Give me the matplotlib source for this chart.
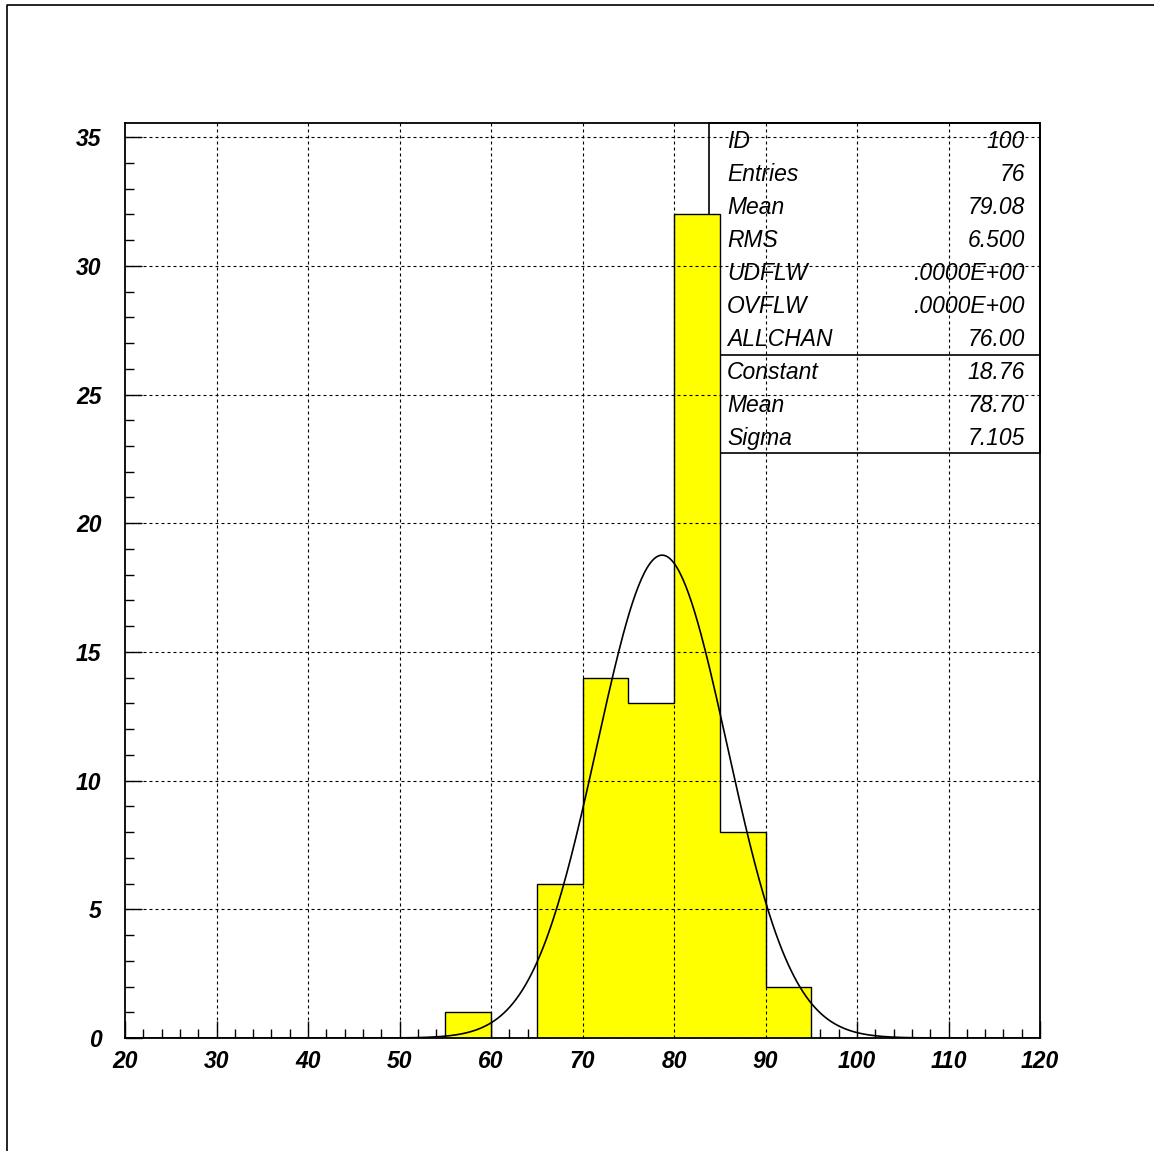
import numpy as np
import matplotlib

matplotlib.use("Agg")
import matplotlib.pyplot as plt
from matplotlib.lines import Line2D
from matplotlib.patches import Rectangle

# histogram contents (bin width 5)
bin_edges = [20, 25, 30, 35, 40, 45, 50, 55, 60, 65, 70, 75, 80, 85, 90, 95, 100, 105, 110, 115, 120]
counts = [0, 0, 0, 0, 0, 0, 0, 1, 0, 6, 14, 13, 32, 8, 2, 0, 0, 0, 0, 0]

# gaussian fit
fit_const = 18.76
fit_mean = 78.70
fit_sigma = 7.105

stat_labels = ["ID", "Entries", "Mean", "RMS", "UDFLW", "OVFLW", "ALLCHAN", "Constant", "Mean", "Sigma"]
stat_values = ["100", "76", "79.08", "6.500", ".0000E+00", ".0000E+00", "76.00", "18.76", "78.70", "7.105"]

W, H = 1154, 1151
fig = plt.figure(figsize=(W / 100, H / 100), dpi=100)

# outer page frame (left and top edges only visible)
fig.add_artist(Line2D([7 / W, 7 / W, 1.0], [0.0, 1 - 5 / H, 1 - 5 / H],
                      transform=fig.transFigure, color="black", lw=1.2))

left, right, bottom, top = 125, 1040, 1038, 123
ax = fig.add_axes([left / W, 1 - bottom / H, (right - left) / W, (bottom - top) / H])
ax.set_xlim(20, 120)
ax.set_ylim(0, 35.55)

# histogram
ax.stairs(counts, bin_edges, fill=True, facecolor="#ffff00", edgecolor="none", zorder=2)
ax.stairs(counts, bin_edges, fill=False, edgecolor="black", lw=1.0, zorder=2.5)

# fitted gaussian
xs = np.linspace(20, 120, 600)
ax.plot(xs, fit_const * np.exp(-0.5 * ((xs - fit_mean) / fit_sigma) ** 2),
        color="black", lw=1.2, zorder=4)

# grid
for gx in range(30, 120, 10):
    ax.axvline(gx, color="black", lw=0.8, linestyle=(0, (2.7, 2.7)), zorder=3)
for gy in range(5, 36, 5):
    ax.axhline(gy, color="black", lw=0.8, linestyle=(0, (2.7, 2.7)), zorder=3)

ax.set_xticks(range(20, 121, 10))
ax.set_xticks(range(20, 121, 2), minor=True)
ax.set_yticks(range(0, 36, 5))
ax.set_yticks(range(0, 36, 1), minor=True)
ax.tick_params(which="both", direction="in", top=False, right=False, width=1.0, color="black")
ax.tick_params(which="major", length=12)
ax.tick_params(which="minor", length=6.5)
ax.tick_params(axis="x", pad=9)
ax.tick_params(axis="y", pad=17)
for lab in ax.get_xticklabels() + ax.get_yticklabels():
    lab.set_fontfamily("Liberation Sans")
    lab.set_fontweight("bold")
    lab.set_fontstyle("italic")
    lab.set_fontsize(16.5)
for sp in ax.spines.values():
    sp.set_linewidth(1.3)
    sp.set_zorder(5)

# statistics box
def fy(py):
    return (bottom - py) / (bottom - top)

bx0 = (709 - left) / (right - left)
ax.add_patch(Rectangle((bx0, fy(453)), 1 - bx0, 1 - fy(453), transform=ax.transAxes,
                       facecolor="none", edgecolor="black", lw=1.2, zorder=1.5, clip_on=False))
ax.plot([bx0, 1], [fy(355), fy(355)], transform=ax.transAxes, color="black", lw=1.2, zorder=1.5)
lx = (727 - left) / (right - left)
rx = (1025 - left) / (right - left)
for i, (lab, val) in enumerate(zip(stat_labels, stat_values)):
    yy = fy(148 + 33 * i)
    ax.text(lx, yy, lab, transform=ax.transAxes, ha="left", va="baseline",
            fontsize=16.5, fontstyle="italic", family="Liberation Sans", zorder=6)
    ax.text(rx, yy, val, transform=ax.transAxes, ha="right", va="baseline",
            fontsize=16.5, fontstyle="italic", family="Liberation Sans", zorder=6)

fig.savefig("out.png", dpi=100)
